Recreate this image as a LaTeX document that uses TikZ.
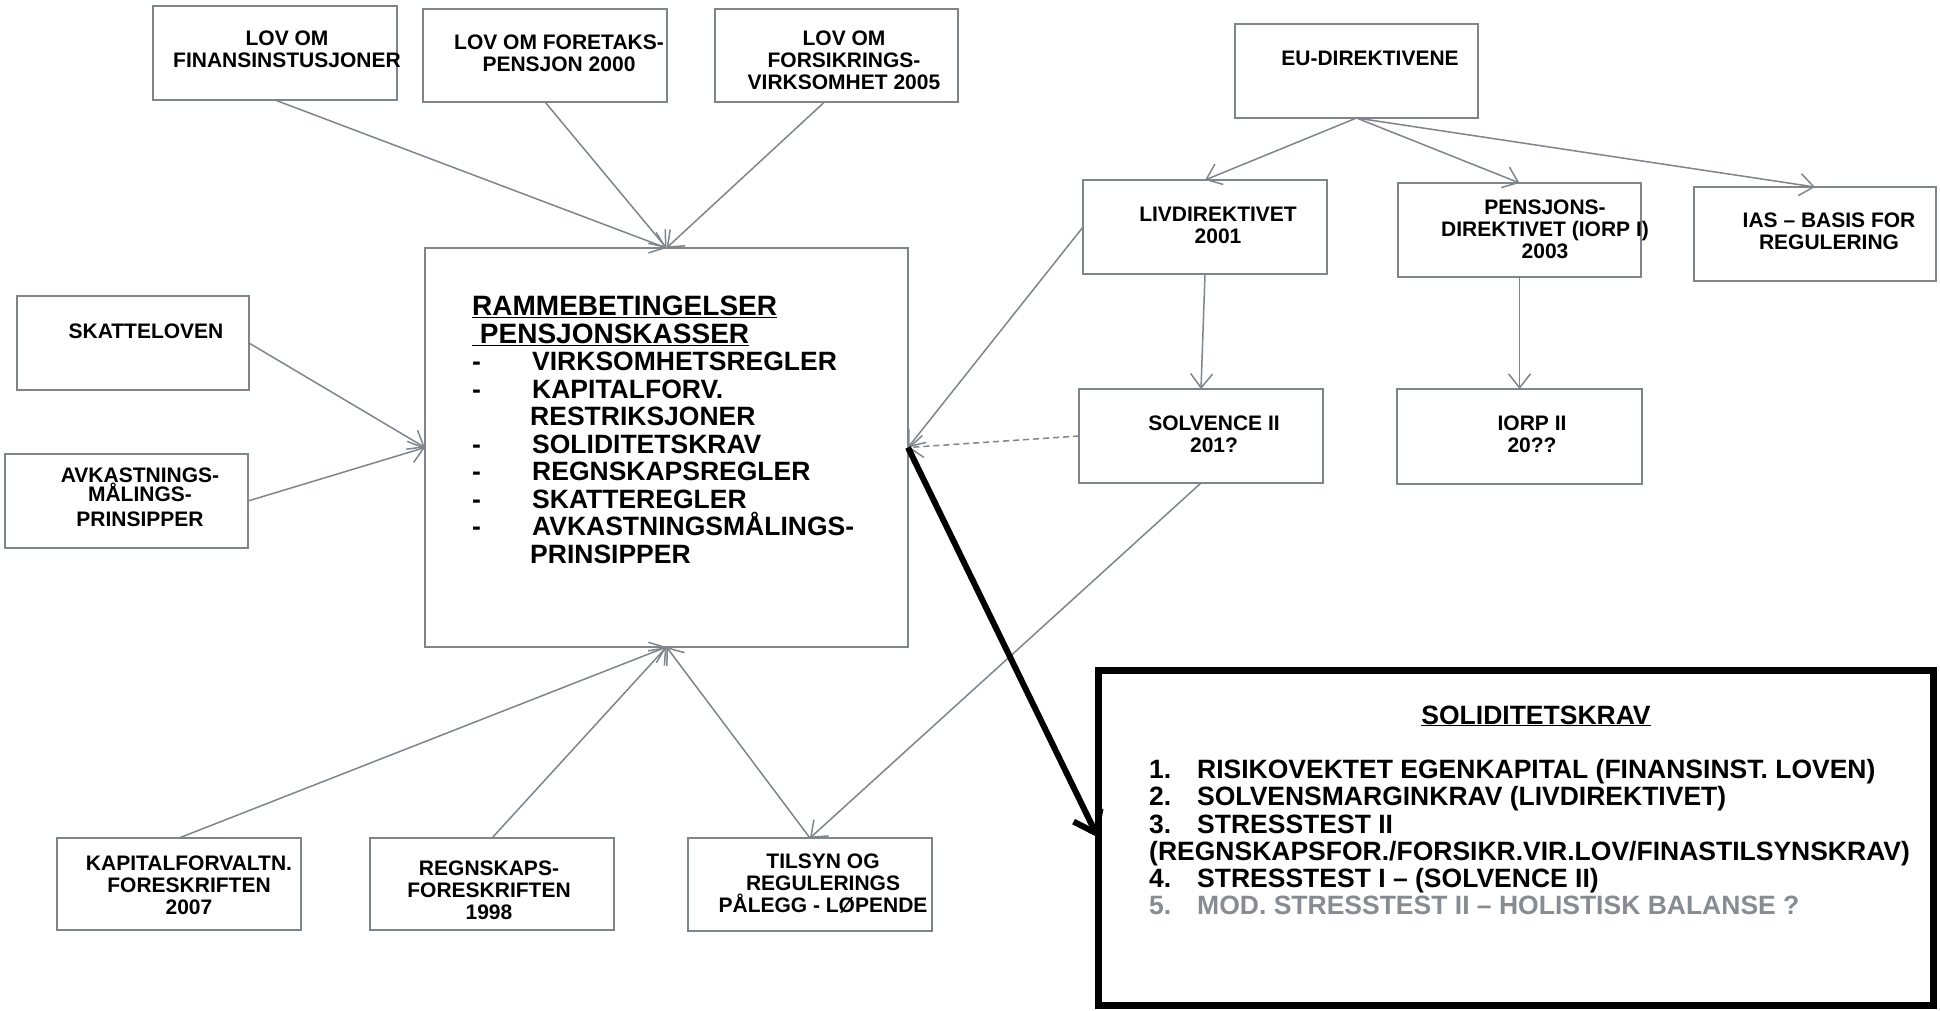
\documentclass[tikz,border=0pt]{standalone}
\usepackage{fontspec}
\setmainfont{Liberation Sans}
\usetikzlibrary{arrows.meta}
\definecolor{lgray}{RGB}{127,133,139}
\definecolor{tgray}{RGB}{135,140,146}
\lineskiplimit=-100pt
\lineskip=0pt
\tikzset{
  bx/.style={draw=lgray, line width=1.6pt, inner sep=0pt, outer sep=0pt, anchor=north west},
  t21/.style={font=\fontsize{21}{22}\selectfont\bfseries, align=center, inner sep=0pt},
  conn/.style={draw=lgray, line width=1.5pt, -{Straight Barb[length=14pt,width=22pt]}},
}
\begin{document}
\begin{tikzpicture}[x=1pt,y=-1pt]
\fill[white] (0,0) rectangle (1940,1010);
\useasboundingbox (0,0) rectangle (1940,1010);

% boxes
\node[bx, minimum width=244pt, minimum height=94pt] (b1) at (153,6) {};
\node[bx, minimum width=244pt, minimum height=93pt] (b2) at (423,9) {};
\node[bx, minimum width=243pt, minimum height=93pt] (b3) at (715,9) {};
\node[bx, minimum width=243pt, minimum height=94pt] (eu) at (1235,24) {};
\node[bx, minimum width=244pt, minimum height=94pt] (liv) at (1083,180) {};
\node[bx, minimum width=243pt, minimum height=94pt] (pens) at (1398,183) {};
\node[bx, minimum width=242pt, minimum height=94pt] (ias) at (1694,187) {};
\node[bx, minimum width=232pt, minimum height=94pt] (skat) at (17,296) {};
\node[bx, minimum width=243pt, minimum height=94pt] (avk) at (5,454) {};
\node[bx, minimum width=483pt, minimum height=399pt] (main) at (425,248) {};
\node[bx, minimum width=244pt, minimum height=94pt] (solv) at (1079,389) {};
\node[bx, minimum width=245pt, minimum height=95pt] (iorp) at (1397,389) {};
\node[bx, minimum width=244pt, minimum height=92pt] (kap) at (57,838) {};
\node[bx, minimum width=244pt, minimum height=92pt] (reg) at (370,838) {};
\node[bx, minimum width=244pt, minimum height=93pt] (tils) at (688,838) {};
\node[bx, draw=black, line width=7pt, minimum width=835pt, minimum height=335pt] (big) at (1098,670) {};

% texts
\node[t21] (tb1) at (287,49.5) {LOV OM\\FINANSINSTUSJONER};
\node[t21] (tb2) at (559,53) {LOV OM FORETAKS-\\PENSJON 2000};
\node[t21] (tb3) at (844,60.5) {LOV OM\\FORSIKRINGS-\\VIRKSOMHET 2005};
\node[t21] (teu) at (1370,58) {EU-DIREKTIVENE};
\node[t21] (tliv) at (1218,225) {LIVDIREKTIVET\\2001};
\node[t21] (tpens) at (1545,229.5) {PENSJONS-\\DIREKTIVET (IORP I)\\2003};
\node[t21] (tias) at (1829,231) {IAS – BASIS FOR\\REGULERING};
\node[t21] (tskat) at (146,331) {SKATTELOVEN};
\node[t21] (tavk) at (140,497) {AVKASTNINGS-\\[-3pt]MÅLINGS-\\[3pt]PRINSIPPER};
\node[t21] (tsolv) at (1214,434) {SOLVENCE II\\201?};
\node[t21] (tiorp) at (1532,434) {IORP II\\20??};
\node[t21] (tkap) at (189,885) {KAPITALFORVALTN.\\FORESKRIFTEN\\2007};
\node[t21] (treg) at (489,890) {REGNSKAPS-\\FORESKRIFTEN\\1998};
\node[t21] (ttils) at (823,884) {TILSYN OG\\REGULERINGS\\PÅLEGG - LØPENDE};

\node[anchor=north west, inner sep=0pt, align=left, font=\fontsize{26.5}{27.5}\selectfont\bfseries] (tmain) at (472,296) {%
{\fontsize{28}{27.5}\selectfont\underline{RAMMEBETINGELSER}}\\
{\fontsize{28}{27.5}\selectfont\underline{\ PENSJONSKASSER}}\\
\makebox[60pt][l]{-}VIRKSOMHETSREGLER\\
\makebox[60pt][l]{-}KAPITALFORV.\\
\hspace*{58pt}RESTRIKSJONER\\
\makebox[60pt][l]{-}SOLIDITETSKRAV\\
\makebox[60pt][l]{-}REGNSKAPSREGLER\\
\makebox[60pt][l]{-}SKATTEREGLER\\
\makebox[60pt][l]{-}AVKASTNINGSMÅLINGS-\\
\hspace*{58pt}PRINSIPPER};

\node[anchor=base, inner sep=0pt, font=\fontsize{26.5}{27.3}\selectfont\bfseries] (thdr) at (1536,724) {\underline{SOLIDITETSKRAV}};
\node[anchor=north west, inner sep=0pt, align=left, font=\fontsize{26.5}{27.3}\selectfont\bfseries] (tlist) at (1149,759) {%
\makebox[48pt][l]{1.}RISIKOVEKTET EGENKAPITAL (FINANSINST. LOVEN)\\
\makebox[48pt][l]{2.}SOLVENSMARGINKRAV (LIVDIREKTIVET)\\
\makebox[48pt][l]{3.}STRESSTEST II\\
(REGNSKAPSFOR./FORSIKR.VIR.LOV/FINASTILSYNSKRAV)\\
\makebox[48pt][l]{4.}STRESSTEST I – (SOLVENCE II)\\
\textcolor{tgray}{\makebox[48pt][l]{5.}MOD. STRESSTEST II – HOLISTISK BALANSE ?}};

% connectors
\draw[conn] (b1.south) -- (main.north);
\draw[conn] (b2.south) -- (main.north);
\draw[conn] ([xshift=-12pt]b3.south) -- (main.north);
\draw[conn] (skat.east) -- (main.west);
\draw[conn] (avk.east) -- (main.west);
\draw[conn] (kap.north) -- (main.south);
\draw[conn] (reg.north) -- (main.south);
\draw[conn] (tils.north) -- (main.south);
\draw[conn] (solv.south) -- (tils.north);
\draw[conn] (eu.south) -- (liv.north);
\draw[conn] (eu.south) -- (pens.north);
\draw[conn] (eu.south) -- (ias.north);
\draw[conn] (liv.south) -- (solv.north);
\draw[conn] (pens.south) -- (iorp.north);
\draw[conn] (liv.west) -- (main.east);
\draw[conn, dash pattern=on 6pt off 4pt] (solv.west) -- (main.east);
\draw[black, line width=6pt, -{Straight Barb[length=20pt,width=30pt]}] (main.east) -- (big.west);
\end{tikzpicture}
\end{document}
